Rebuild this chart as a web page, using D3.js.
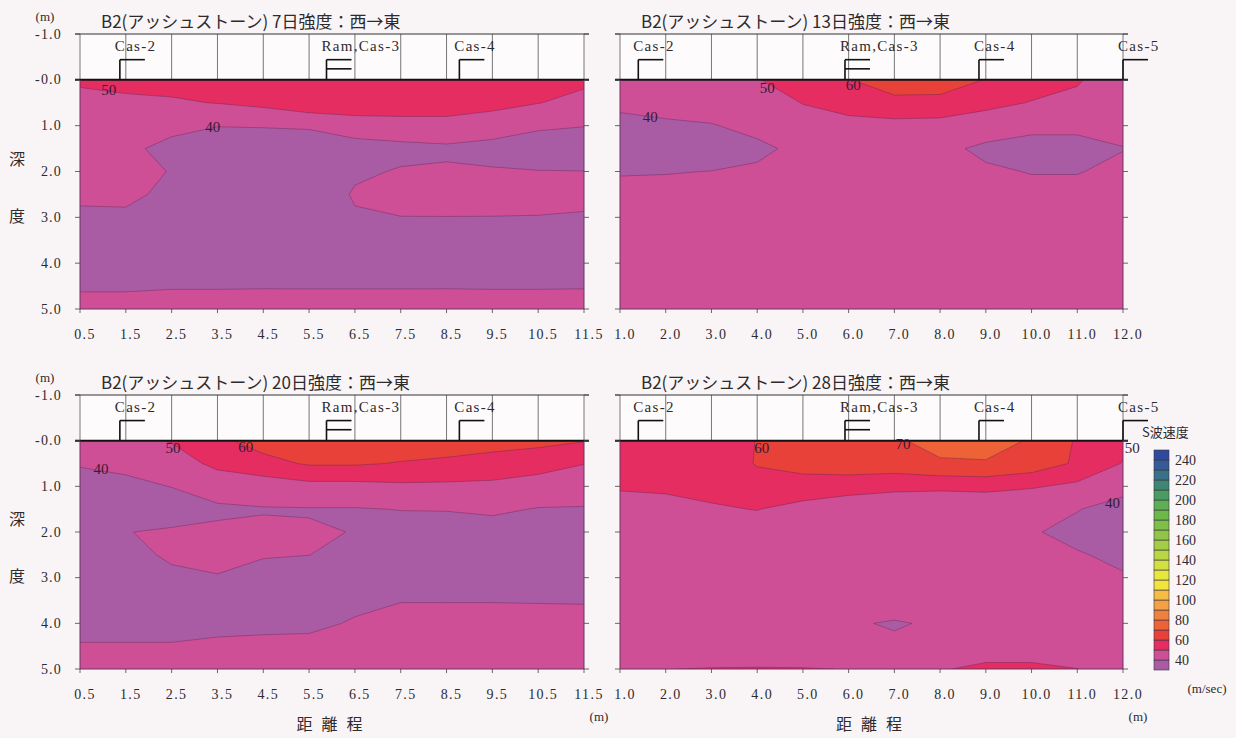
<!DOCTYPE html>
<html lang="ja">
<head>
<meta charset="utf-8">
<title>B2 S波速度</title>
<script src="https://cdn.jsdelivr.net/npm/d3@7"></script>
<style>
  html, body { margin: 0; padding: 0; background: #f9f5f7; }
  svg { display: block; }
  .num { font-family: "Liberation Serif", "DejaVu Serif", serif; fill: #2e2a2d; }
  .jp { font-family: "Noto Sans CJK JP", sans-serif; fill: #2e2a2d; }
</style>
</head>
<body>
<svg id="chart" width="1236" height="738"></svg>
<script>
// grid rows (depth, m) and columns (distance, m)
const depths = [0, 0.5, 1, 1.5, 2, 2.5, 3, 3.5, 4, 4.5, 5];
const distA = [0.5, 1.5, 2.5, 3.5, 4.5, 5.5, 6.5, 7.5, 8.5, 9.5, 10.5, 11.5];
const distB = [1, 2, 3, 4, 5, 6, 7, 8, 9, 10, 11, 12];

// S-wave velocity (m/sec), one row per depth
const vel7 = [
  [52, 51.5, 53, 54, 55, 58, 58, 58, 58, 58, 55, 52],
  [46, 49, 49, 50.3, 52.5, 57, 56.4, 56, 56, 54, 50.3, 47],
  [45, 45, 42.8, 40.2, 40.5, 41, 45, 46, 46, 43, 41, 40.2],
  [44, 42.2, 37, 36, 35, 35, 36, 37.4, 38.5, 38, 36.5, 36],
  [43, 43, 39.6, 35, 34, 33, 38.5, 40.7, 41.1, 40.5, 40.2, 40.1],
  [42, 42, 37.8, 34, 33, 33, 41, 42, 42.5, 42, 42, 42],
  [38, 38.4, 35, 34, 33, 33, 39, 39.9, 39.9, 39.9, 39.8, 39.3],
  [35, 35, 34, 34, 33, 33, 35, 35, 35, 35, 35, 35],
  [35, 35, 35, 35, 34, 34, 34, 34, 34, 34, 34, 34],
  [39, 39, 39.5, 39.5, 39.6, 39.5, 39.5, 39.5, 39.6, 39.5, 39.5, 39.6],
  [43, 43, 43, 43, 43, 43.5, 43.5, 43.5, 43, 43, 43, 43]
];
const vel13 = [
  [46, 46.5, 47, 49.8, 52, 59.7, 64, 63.5, 59.8, 55, 50.8, 45],
  [41.5, 43, 43.5, 45, 50.3, 55, 58, 58, 53, 49.5, 48, 44],
  [38, 38.7, 39.6, 42, 46, 46.1, 46.6, 45.9, 44, 42, 42, 42],
  [37, 36, 36.5, 38.5, 41.8, 44, 44, 41.8, 38.5, 37, 37, 39.8],
  [39.5, 39.7, 40.1, 41, 42.5, 43.5, 43.5, 43, 41, 39.7, 39.7, 41.5],
  [42, 42, 42.5, 43, 43.5, 43.5, 43.5, 43.5, 43, 42, 42, 43],
  [43, 43.5, 44, 44, 44, 44, 44, 44, 44, 43.5, 43.5, 44],
  [44, 44, 44.5, 45, 45, 44.5, 44, 44.5, 45, 44.5, 44, 44.5],
  [44, 44.5, 44.5, 45, 45.5, 45, 44.5, 44.5, 45, 45, 44.5, 44.5],
  [44.5, 45, 45, 45, 45.5, 45.5, 45, 45, 45, 45, 45, 44.5],
  [45, 45.5, 45.5, 46, 46, 46, 45.5, 45.5, 46, 46, 45.5, 45]
];
const vel20 = [
  [46, 47.5, 50.5, 58, 63.9, 66, 66, 65, 64, 63, 62, 60.5],
  [40.6, 42, 46, 52, 57, 61, 61, 59.5, 58.5, 57, 55.5, 50.2],
  [37, 38, 40.2, 44.9, 44.5, 47, 47, 48.2, 48, 47.5, 44, 45],
  [35, 35, 36, 38.3, 39.5, 39.5, 39.5, 40.2, 40.3, 41, 39.7, 39.3],
  [34, 39.8, 41, 41.7, 41.5, 40.8, 39.8, 37, 37, 37.5, 37, 37],
  [34, 37, 41.5, 42.5, 41, 40.1, 37, 36, 36, 36, 36, 36],
  [34, 35, 38, 39.5, 35, 35, 36, 36, 36, 36, 36, 36],
  [34, 34, 34.5, 35, 34.5, 34, 38, 39.8, 39.8, 39.8, 39.7, 39.6],
  [35, 35, 35, 37, 37.5, 38, 40.8, 42, 42, 42, 42, 42],
  [41, 41, 41, 42, 42.5, 42.5, 43, 43.5, 43.5, 43.5, 43.5, 43.5],
  [43, 43.5, 43.5, 44, 44, 44, 44.5, 44.5, 44.5, 44.5, 44.5, 44.5]
];
const vel28 = [
  [55, 56, 56, 60.2, 63, 65, 69, 72.6, 74, 69.1, 59, 53],
  [54, 55, 55, 60.5, 63, 64, 66, 69.1, 69.2, 66, 58.5, 49.5],
  [51, 52, 53, 57, 56.5, 56, 52, 52.3, 53.3, 51, 47.9, 44],
  [46, 46, 48.9, 50.3, 46.3, 41, 44, 41, 40.6, 41, 40.5, 35.3],
  [45, 45, 45, 45, 44.5, 43, 43.5, 43, 43, 41, 36.7, 35],
  [44.5, 44.5, 44.5, 44.5, 44, 43.5, 43.5, 43.5, 43.5, 43, 40.9, 37.5],
  [44, 44, 44, 44, 44, 43.5, 43.5, 43.5, 43.5, 43.5, 43, 41],
  [44, 44, 44, 44, 44, 43, 43, 43, 43.5, 43.5, 43.5, 43],
  [44, 44, 44, 44, 43.5, 40.6, 39.5, 40.8, 43.5, 43.5, 43.5, 43.5],
  [44.5, 45, 45, 45, 45, 44, 41, 44, 45, 45, 45, 44.5],
  [48, 49.9, 50.3, 50.4, 50.3, 49.85, 48.5, 49.3, 52, 52, 50.1, 47]
];

// contour labels: [distance, depth, text]
const labels7 = [[1.13, 0.22, "50"], [3.4, 1.03, "40"]];
const labels13 = [[4.22, 0.17, "50"], [6.1, 0.12, "60"], [1.66, 0.8, "40"]];
const labels20 = [[2.53, 0.15, "50"], [4.12, 0.14, "60"], [0.96, 0.61, "40"]];
const labels28 = [[4.1, 0.15, "60"], [7.19, 0.07, "70"], [12.2, 0.15, "50"], [11.77, 1.36, "40"]];

// casing / ram points on the section
const marksA = [["Cas-2", 1.37, 1], ["Ram,Cas-3", 5.88, 2], ["Cas-4", 8.78, 1]];
const marksB = [["Cas-2", 1.4, 1], ["Ram,Cas-3", 5.92, 2], ["Cas-4", 8.85, 1], ["Cas-5", 12.0, 1]];

// colour classes (lower bound of each 10 m/sec class, 30 .. 240)
const levels = d3.range(30, 250, 10);
const levelColors = [
  "#a95ca4", "#cf4f97", "#e52d62", "#e8413a", "#ed6337", "#f0803e", "#f4a044",
  "#f6bd45", "#f3e43c", "#e6e83e", "#d2e040", "#b9d643", "#a3cd45", "#90c647",
  "#7ebf48", "#6db84b", "#5daf53", "#4a9d62", "#3f8775", "#3a7088", "#355a98", "#2f4a9c"
];
const legendTicks = [40, 60, 80, 100, 120, 140, 160, 180, 200, 220, 240];

const svg = d3.select("#chart");

const panels = [
  { id: "p7", title: "B2(アッシュストーン) 7日強度：西→東", xs: distA, grid: vel7, labels: labels7, marks: marksA,
    left: 80, right: 584, top: 34, bottom: 309, yLabels: true, foot: false },
  { id: "p13", title: "B2(アッシュストーン) 13日強度：西→東", xs: distB, grid: vel13, labels: labels13, marks: marksB,
    left: 620, right: 1123, top: 34, bottom: 309, yLabels: false, foot: false },
  { id: "p20", title: "B2(アッシュストーン) 20日強度：西→東", xs: distA, grid: vel20, labels: labels20, marks: marksA,
    left: 80, right: 584, top: 395, bottom: 669, yLabels: true, foot: true },
  { id: "p28", title: "B2(アッシュストーン) 28日強度：西→東", xs: distB, grid: vel28, labels: labels28, marks: marksB,
    left: 620, right: 1123, top: 395, bottom: 669, yLabels: false, foot: true }
];

panels.forEach(drawPanel);
drawLegend();

function drawPanel(p) {
  const x = d3.scaleLinear().domain([p.xs[0], p.xs[p.xs.length - 1]]).range([p.left, p.right]);
  const y = d3.scaleLinear().domain([-1, 5]).range([p.top, p.bottom]);
  const g = svg.append("g");

  // clip to the measured section
  svg.append("clipPath").attr("id", "clip-" + p.id)
    .append("rect")
    .attr("x", x(p.xs[0])).attr("y", y(0))
    .attr("width", x(p.xs[p.xs.length - 1]) - x(p.xs[0]))
    .attr("height", y(5) - y(0));

  // filled contour bands
  const nx = p.xs.length, ny = depths.length;
  const dx = p.xs[1] - p.xs[0], dd = depths[1] - depths[0];
  const bands = d3.contours().size([nx, ny]).thresholds(levels)(p.grid.flat());
  const proj = d3.geoTransform({
    point: function(gx, gy) {
      this.stream.point(x(p.xs[0] + (gx - 0.5) * dx), y(depths[0] + (gy - 0.5) * dd));
    }
  });
  const path = d3.geoPath(proj);
  const field = g.append("g").attr("clip-path", "url(#clip-" + p.id + ")");
  field.selectAll("path")
    .data(bands)
    .join("path")
    .attr("d", path)
    .attr("fill", d => levelColors[levels.indexOf(d.value)])
    .attr("fill-rule", "evenodd")
    .attr("stroke", "#5a2450")
    .attr("stroke-opacity", 0.55)
    .attr("stroke-width", 0.7);

  // header box above ground line
  g.append("rect")
    .attr("x", x.range()[0]).attr("y", y(-1))
    .attr("width", x.range()[1] - x.range()[0]).attr("height", y(0) - y(-1))
    .attr("fill", "#fdfbfc");
  g.selectAll(".hgrid")
    .data(p.xs)
    .join("line")
    .attr("x1", d => x(d)).attr("x2", d => x(d))
    .attr("y1", y(-1)).attr("y2", y(0))
    .attr("stroke", "#555").attr("stroke-width", 0.8);
  g.append("line")
    .attr("x1", x.range()[0] - 5).attr("x2", x.range()[1] + 5)
    .attr("y1", y(-1)).attr("y2", y(-1))
    .attr("stroke", "#333").attr("stroke-width", 1);

  // casing marks
  p.marks.forEach(m => {
    const mx = x(m[1]);
    g.append("line")
      .attr("x1", mx).attr("x2", mx).attr("y1", y(0)).attr("y2", y(-0.44))
      .attr("stroke", "#111").attr("stroke-width", 1.6);
    for (let k = 0; k < m[2]; k++) {
      const yy = y(-0.44 + k * 0.2);
      g.append("line")
        .attr("x1", mx).attr("x2", mx + 25).attr("y1", yy).attr("y2", yy)
        .attr("stroke", "#111").attr("stroke-width", 1.6);
    }
    g.append("text").attr("class", "num")
      .attr("x", mx - 5).attr("y", y(-0.73))
      .attr("dominant-baseline", "central")
      .style("font-size", "15px").style("letter-spacing", "1.3px")
      .text(m[0]);
  });

  // ground line
  g.append("line")
    .attr("x1", x.range()[0] - 5).attr("x2", x.range()[1] + 5)
    .attr("y1", y(0)).attr("y2", y(0))
    .attr("stroke", "#111").attr("stroke-width", 2);

  // frame + ticks
  g.append("path")
    .attr("d", `M${x.range()[0]},${y(0)}V${y(5)}H${x.range()[1]}V${y(0)}`)
    .attr("fill", "none").attr("stroke", "#6a3560").attr("stroke-width", 1);
  const dTicks = d3.range(-1, 6, 1);
  g.selectAll(".lt").data(dTicks).join("line")
    .attr("x1", x.range()[0] - 5).attr("x2", x.range()[0])
    .attr("y1", d => y(d)).attr("y2", d => y(d))
    .attr("stroke", "#444").attr("stroke-width", 0.8);
  g.selectAll(".rt").data(dTicks).join("line")
    .attr("x1", x.range()[1]).attr("x2", x.range()[1] + 5)
    .attr("y1", d => y(d)).attr("y2", d => y(d))
    .attr("stroke", "#444").attr("stroke-width", 0.8);
  g.selectAll(".bt").data(p.xs).join("line")
    .attr("x1", d => x(d)).attr("x2", d => x(d))
    .attr("y1", y(5)).attr("y2", y(5) + 4)
    .attr("stroke", "#444").attr("stroke-width", 0.8);

  g.selectAll(".xl").data(p.xs).join("text")
    .attr("class", "num")
    .attr("x", d => x(d) + 5).attr("y", y(5) + 25)
    .attr("text-anchor", "middle").attr("dominant-baseline", "central")
    .style("font-size", "14px").style("letter-spacing", "1.4px")
    .text(d3.format(".1f"));

  if (p.yLabels) {
    g.selectAll(".yl").data(dTicks).join("text")
      .attr("class", "num")
      .attr("x", 62).attr("y", d => y(d))
      .attr("text-anchor", "end").attr("dominant-baseline", "central")
      .style("font-size", "14px").style("letter-spacing", "1.2px")
      .text(d => d <= 0 ? "-" + d3.format(".1f")(Math.abs(d)) : d3.format(".1f")(d));
    g.append("text").attr("class", "num")
      .attr("x", 45).attr("y", y(-1) - 18)
      .attr("text-anchor", "middle").attr("dominant-baseline", "central")
      .style("font-size", "13px").text("(m)");
    g.append("text").attr("class", "jp")
      .attr("x", 17).attr("y", y(1.7))
      .attr("text-anchor", "middle").attr("dominant-baseline", "central")
      .style("font-size", "16px").text("深");
    g.append("text").attr("class", "jp")
      .attr("x", 17).attr("y", y(2.95))
      .attr("text-anchor", "middle").attr("dominant-baseline", "central")
      .style("font-size", "16px").text("度");
  }

  g.append("text").attr("class", "jp")
    .attr("x", p.left + 21).attr("y", y(-1) - 14)
    .attr("dominant-baseline", "central")
    .style("font-size", "17px")
    .text(p.title);

  if (p.foot) {
    g.append("text").attr("class", "jp")
      .attr("x", (p.left + p.right) / 2 + 2).attr("y", y(5) + 54)
      .attr("text-anchor", "middle").attr("dominant-baseline", "central")
      .style("font-size", "16px").style("letter-spacing", "9px")
      .text("距離程");
    g.append("text").attr("class", "num")
      .attr("x", p.right + 15).attr("y", y(5) + 47)
      .attr("text-anchor", "middle").attr("dominant-baseline", "central")
      .style("font-size", "13px").text("(m)");
  }

  // contour value labels
  g.selectAll(".cl").data(p.labels).join("text")
    .attr("class", "num")
    .attr("x", d => x(d[0])).attr("y", d => y(d[1]))
    .attr("text-anchor", "middle").attr("dominant-baseline", "central")
    .style("font-size", "15px").style("fill", "#3a1a32")
    .text(d => d[2]);
}

function drawLegend() {
  const ly = d3.scaleLinear().domain([30, 250]).range([670, 450]);
  const g = svg.append("g");
  g.selectAll("rect").data(levels).join("rect")
    .attr("x", 1154).attr("y", d => ly(d + 10))
    .attr("width", 15).attr("height", d => ly(d) - ly(d + 10))
    .attr("fill", (d, i) => levelColors[i])
    .attr("stroke", "#3a3440").attr("stroke-width", 0.6);
  g.selectAll(".lt").data(legendTicks).join("text")
    .attr("class", "num")
    .attr("x", 1175).attr("y", d => ly(d))
    .attr("dominant-baseline", "central")
    .style("font-size", "14px")
    .text(d => d);
  g.append("text").attr("class", "jp")
    .attr("x", 1142).attr("y", 431)
    .attr("dominant-baseline", "central")
    .style("font-size", "13px").text("S波速度");
  g.append("text").attr("class", "num")
    .attr("x", 1207).attr("y", 688)
    .attr("text-anchor", "middle").attr("dominant-baseline", "central")
    .style("font-size", "13px").text("(m/sec)");
}
</script>
</body>
</html>
